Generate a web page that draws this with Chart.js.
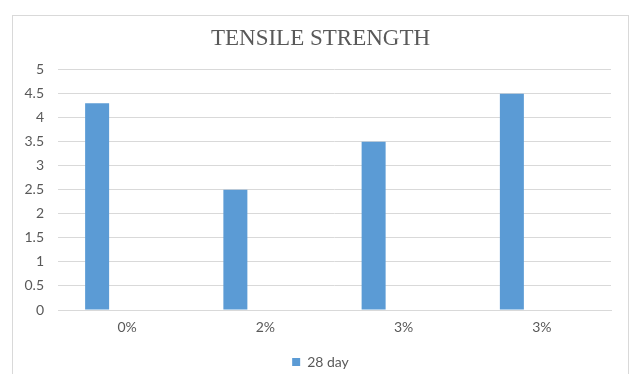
<!DOCTYPE html>
<html>
<head>
<meta charset="utf-8">
<script src="https://cdn.jsdelivr.net/npm/chart.js@4/dist/chart.umd.min.js"></script>
<style>
  html, body { margin: 0; padding: 0; background: #ffffff; }
  #wrap { position: relative; width: 630px; height: 374px; }
</style>
</head>
<body>
<div id="wrap"><canvas id="chart"></canvas></div>
<script>
// Tensile strength at 28 days per mix
const categories = ['0%', '2%', '3%', '3%'];
const day28 = [4.3, 2.5, 3.5, 4.5];
// second series column left empty
const emptySeries = [null, null, null, null];
const yTicks = [0, 0.5, 1, 1.5, 2, 2.5, 3, 3.5, 4, 4.5, 5];

const textColor = '#595959';
const gridColor = '#d9d9d9';
const bodyFont = 'Lato, "Open Sans", sans-serif';

// frame drawn round the whole chart
const framePlugin = {
  id: 'frame',
  beforeDraw(chart) {
    const ctx = chart.ctx;
    ctx.save();
    ctx.fillStyle = '#ffffff';
    ctx.fillRect(0, 0, chart.width, chart.height);
    ctx.strokeStyle = '#d9d9d9';
    ctx.lineWidth = 1;
    ctx.strokeRect(12.5, 15.5, 616, 380);
    ctx.restore();
  }
};

new Chart(document.getElementById('chart'), {
  type: 'bar',
  data: {
    labels: categories,
    datasets: [
      {
        label: '28 day',
        data: day28,
        backgroundColor: '#5b9bd5',
        borderWidth: 0,
        categoryPercentage: 0.868,
        barPercentage: 0.4
      },
      {
        label: '',
        data: emptySeries,
        backgroundColor: '#ed7d31',
        borderWidth: 0,
        categoryPercentage: 0.868,
        barPercentage: 0.4
      }
    ]
  },
  options: {
    responsive: true,
    maintainAspectRatio: false,
    animation: false,
    layout: { padding: { left: 12, top: 15, right: 1, bottom: -5 } },
    plugins: {
      title: {
        display: true,
        text: 'TENSILE STRENGTH',
        color: textColor,
        font: { family: '"Liberation Serif", "DejaVu Serif", serif', size: 23, weight: 'normal', lineHeight: 1.2 },
        padding: { top: 10, bottom: 17 }
      },
      legend: {
        position: 'bottom',
        labels: {
          color: textColor,
          font: { family: bodyFont, size: 14 },
          boxWidth: 8,
          boxHeight: 8,
          padding: 0,
          filter: (item) => item.text !== ''
        }
      },
      tooltip: { enabled: false }
    },
    scales: {
      x: {
        grid: { display: false, drawTicks: false },
        border: { display: true, color: gridColor, width: 1 },
        ticks: { color: textColor, font: { family: bodyFont, size: 14 }, padding: 9 },
        afterFit(scale) { scale.height = 45; }
      },
      y: {
        min: 0,
        max: 5,
        afterBuildTicks(scale) { scale.ticks = yTicks.map(v => ({ value: v })); },
        grid: { color: gridColor, lineWidth: 1, drawTicks: false },
        border: { display: false },
        ticks: {
          color: textColor,
          font: { family: bodyFont, size: 14 },
          padding: 14,
          callback: (v) => String(v)
        },
        afterFit(scale) { scale.width = 46; }
      },
      // blank margin to the right of the plot area
      rightMargin: {
        position: 'right',
        grid: { display: false, drawTicks: false },
        border: { display: false },
        ticks: { display: false },
        afterFit(scale) { scale.width = 18; }
      }
    }
  },
  plugins: [framePlugin]
});
</script>
</body>
</html>
